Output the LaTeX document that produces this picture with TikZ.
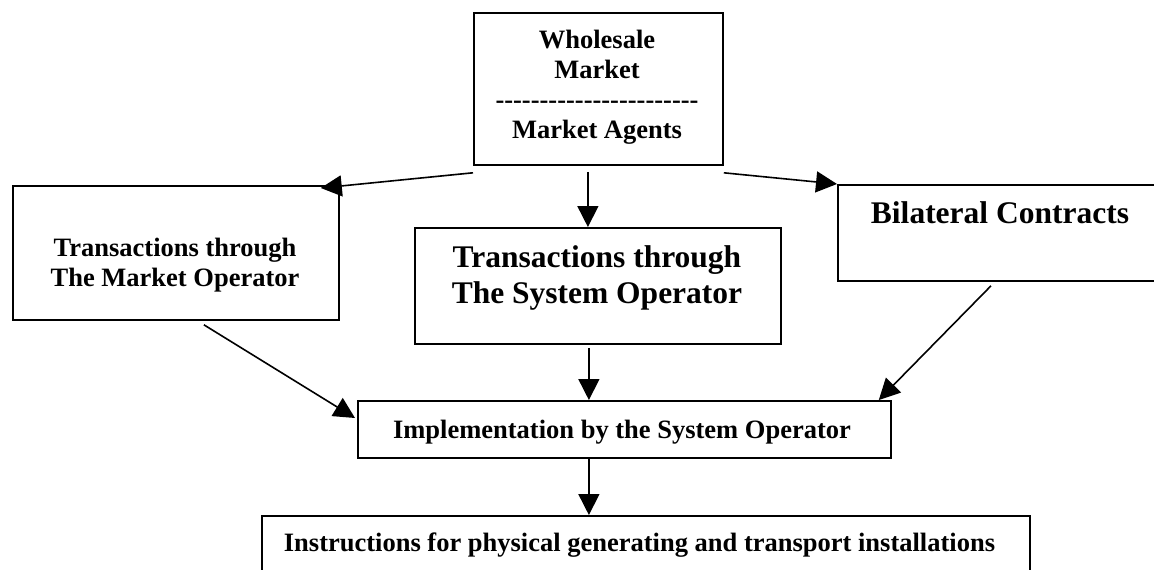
\documentclass[tikz,border=0pt]{standalone}
\usepackage{fontspec}
\setmainfont{Liberation Serif}
\usetikzlibrary{arrows.meta,calc}
\begin{document}
\begin{tikzpicture}[x=1pt,y=-1pt,
  box/.style={draw, line width=1.8pt, rectangle, inner sep=0pt, anchor=north west},
  lbl/.style={font=\bfseries\fontsize{26.5}{30}\selectfont, align=center, inner sep=0pt},
  big/.style={font=\bfseries\fontsize{31.5}{36}\selectfont, align=center, inner sep=0pt},
  link/.style={line width=1.6pt, -{Triangle[length=21pt,width=21pt]}}]
  % page frame
  \clip (0,0) rectangle (1154,570);
  \fill[white] (0,0) rectangle (1154,570);

  % boxes
  \node[box, minimum width=249pt, minimum height=152pt] (top)  at (473,12)  {};
  \node[box, minimum width=326pt, minimum height=134pt] (lbox) at (12,185)  {};
  \node[box, minimum width=366pt, minimum height=116pt] (mid)  at (414,227) {};
  \node[box, minimum width=340pt, minimum height=96pt]  (rbox) at (837,184) {};
  \node[box, minimum width=533pt, minimum height=57pt]  (impl) at (357,400) {};
  \node[box, minimum width=768pt, minimum height=80pt]  (bot)  at (261,515) {};

  % box texts
  \node[lbl] (topT) at (597,87) {Wholesale\\Market\\-{}-{}-{}-{}-{}-{}-{}-{}-{}-{}-{}-{}-{}-{}-{}-{}-{}-{}-{}-{}-{}-{}-{}\\Market Agents};
  \node[lbl] (lT) at (175,265) {Transactions through\\The Market Operator};
  \node[big] (mT) at (597,277.5) {Transactions through\\The System Operator};
  \node[big] (rT) at (1000,213) {Bilateral Contracts};
  \node[lbl] (iT) at (622,432) {Implementation by the System Operator};
  \node[lbl] (bT) at (639.5,545.5) {Instructions for physical generating and transport installations};

  % connectors
  \draw[link] ($(top.south west)+(0,7)$) -- ($(lbox.north east)+(-19,3)$);
  \draw[link] ($(top.south)+(-10.5,6)$) -- ($(mid.north)+(-10,0)$);
  \draw[link] ($(top.south east)+(0,7)$) -- (rbox.north west);
  \draw[link] ($(lbox.south)+(28,4)$) -- ($(impl.north west)+(-2,18)$);
  \draw[link] ($(mid.south)+(-9,3)$) -- ($(impl.north)+(-35.5,0)$);
  \draw[link] ($(rbox.south west)+(154,4)$) -- ($(impl.north east)+(-13,0)$);
  \draw[link] ($(impl.south)+(-35.5,0)$) -- ($(bot.north)+(-57,0)$);
\end{tikzpicture}
\end{document}
